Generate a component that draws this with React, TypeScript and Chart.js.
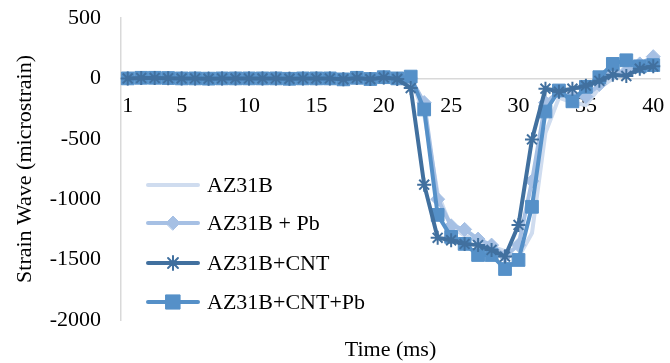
import { useEffect, useRef } from 'react';
import { Chart, registerables } from 'chart.js';
import { drawPoint } from 'chart.js/helpers';

Chart.register(...registerables);

const categories = [
  1, 2, 3, 4, 5, 6, 7, 8, 9, 10, 11, 12, 13, 14, 15, 16, 17, 18, 19, 20,
  21, 22, 23, 24, 25, 26, 27, 28, 29, 30, 31, 32, 33, 34, 35, 36, 37, 38, 39, 40,
];
const shownTicks = [1, 5, 10, 15, 20, 25, 30, 35, 40];
const yTicks = [500, 0, -500, -1000, -1500, -2000];

const az31b = [
  0, 2, 3, 2, 0, 0, -2, 0, 0, 0, 0, 0, -2, 0, 0, 0, -5, 3, -4, 6,
  -2, 0, -300, -950, -1230, -1300, -1350, -1390, -1430, -1480, -1280, -450, -160, -200, -220, -80, 0, 40, 90, 130,
];
const az31bPb = [
  0, 3, 4, 3, 1, 0, -1, 0, 0, 0, 0, 0, -3, 0, 0, 0, -6, 4, -5, 8,
  -3, 0, -200, -1000, -1220, -1250, -1330, -1380, -1470, -1380, -850, -200, -110, -150, -150, -50, 40, 60, 120, 180,
];
const az31bCnt = [
  0, 4, 4, 2, 0, 0, -2, 0, 0, 0, 0, 0, -3, 0, 0, 0, -7, 4, -6, 8,
  -5, -80, -880, -1320, -1340, -1370, -1380, -1420, -1475, -1213, -505, -85, -110, -85, -60, -20, 30, 20, 80, 100,
];
const az31bCntPb = [
  0, 5, 5, 3, 0, 0, -2, 0, 0, 0, 0, 0, -3, 0, 0, 0, -8, 5, -5, 10,
  0, 15, -257, -1130, -1312, -1370, -1462, -1462, -1578, -1503, -1063, -274, -100, -190, -70, 10, 120, 150, 100, 110,
];

const FONT = '"Liberation Serif", "Times New Roman", serif';
const LEGEND_Y = [185, 223, 263, 302];

const legendPlugin = {
  id: 'customLegend',
  afterDraw(chart: any) {
    const ctx = chart.ctx;
    chart.data.datasets.forEach((ds: any, i: number) => {
      const y = LEGEND_Y[i];
      ctx.save();
      ctx.strokeStyle = ds.borderColor;
      ctx.lineWidth = 4;
      ctx.lineCap = 'round';
      ctx.beginPath();
      ctx.moveTo(148, y);
      ctx.lineTo(198, y);
      ctx.stroke();
      if (ds.pointRadius > 0) {
        ctx.fillStyle = ds.pointBackgroundColor;
        ctx.strokeStyle = ds.pointBorderColor;
        ctx.lineWidth = ds.pointBorderWidth;
        drawPoint(ctx, {
          pointStyle: ds.pointStyle,
          rotation: 0,
          radius: ds.pointStyle === 'rect' ? ds.pointRadius + 1 : ds.pointRadius,
          borderWidth: ds.pointBorderWidth,
        } as any, 173, y);
      }
      ctx.fillStyle = '#000';
      ctx.font = `22px ${FONT}`;
      ctx.textAlign = 'left';
      ctx.textBaseline = 'middle';
      ctx.fillText(ds.label, 207, y + 1);
      ctx.restore();
    });
    const area = chart.chartArea;
    ctx.save();
    ctx.fillStyle = '#000';
    ctx.font = `22px ${FONT}`;
    ctx.textAlign = 'center';
    ctx.textBaseline = 'middle';
    ctx.fillText('Time (ms)', (area.left + area.right) / 2, 350);
    ctx.restore();
  },
};

export default function App() {
  const ref = useRef<HTMLCanvasElement>(null);
  useEffect(() => {
    document.body.style.margin = '0';
    const chart = new Chart(ref.current!, {
      type: 'line',
      data: {
        labels: categories,
        datasets: [
          {
            label: 'AZ31B',
            data: az31b,
            borderColor: '#cfdcef',
            backgroundColor: '#cfdcef',
            borderWidth: 4,
            pointRadius: 0,
            pointHoverRadius: 0,
            order: 4,
          },
          {
            label: 'AZ31B + Pb',
            data: az31bPb,
            borderColor: '#a6c0e4',
            backgroundColor: '#a6c0e4',
            pointBackgroundColor: '#a6c0e4',
            pointBorderColor: '#a6c0e4',
            pointBorderWidth: 1,
            pointStyle: 'rectRot',
            pointRadius: 7,
            borderWidth: 4,
            order: 3,
          },
          {
            label: 'AZ31B+CNT',
            data: az31bCnt,
            borderColor: '#41709f',
            backgroundColor: '#41709f',
            pointBackgroundColor: '#41709f',
            pointBorderColor: '#41709f',
            pointBorderWidth: 2,
            pointStyle: 'star',
            pointRadius: 7,
            borderWidth: 4,
            order: 1,
          },
          {
            label: 'AZ31B+CNT+Pb',
            data: az31bCntPb,
            borderColor: '#5590c8',
            backgroundColor: '#5590c8',
            pointBackgroundColor: '#5590c8',
            pointBorderColor: '#5590c8',
            pointBorderWidth: 1,
            pointStyle: 'rect',
            pointRadius: 9,
            borderWidth: 4,
            order: 2,
          },
        ],
      },
      options: {
        responsive: false,
        animation: false,
        layout: { padding: { top: 18, right: 5, bottom: 43, left: 0 } },
        plugins: {
          legend: { display: false },
          tooltip: { enabled: false },
        },
        elements: { line: { tension: 0 } },
        scales: {
          x: {
            type: 'category',
            offset: true,
            position: { y: 0 } as any,
            grid: { display: false, drawTicks: false },
            border: { display: true, color: '#d9d9d9', width: 1.5 },
            ticks: {
              autoSkip: false,
              maxRotation: 0,
              padding: 15,
              color: '#000',
              font: { family: FONT, size: 22 },
              callback: (_v: any, i: number) =>
                shownTicks.includes(categories[i]) ? String(categories[i]) : '',
            },
            afterFit: (s: any) => {
              s.height = 0;
              s.paddingLeft = 0;
              s.paddingRight = 0;
            },
          },
          y: {
            min: -2000,
            max: 500,
            afterBuildTicks: (s: any) => {
              s.ticks = yTicks.map((v) => ({ value: v }));
            },
            grid: { display: false, drawTicks: false },
            border: { display: true, color: '#d9d9d9', width: 1.5 },
            ticks: {
              padding: 20,
              color: '#000',
              font: { family: FONT, size: 22 },
              callback: (v: any) => String(v),
            },
            title: {
              display: true,
              text: 'Strain Wave (microstrain)',
              color: '#000',
              font: { family: FONT, size: 22, weight: 'normal' },
              padding: { top: 12, bottom: 0 },
            },
            afterFit: (s: any) => {
              s.width = 121;
              s.paddingTop = 0;
              s.paddingBottom = 0;
            },
          },
        },
      },
      plugins: [legendPlugin],
    });
    return () => chart.destroy();
  }, []);
  return <canvas ref={ref} width={670} height={363} />;
}
